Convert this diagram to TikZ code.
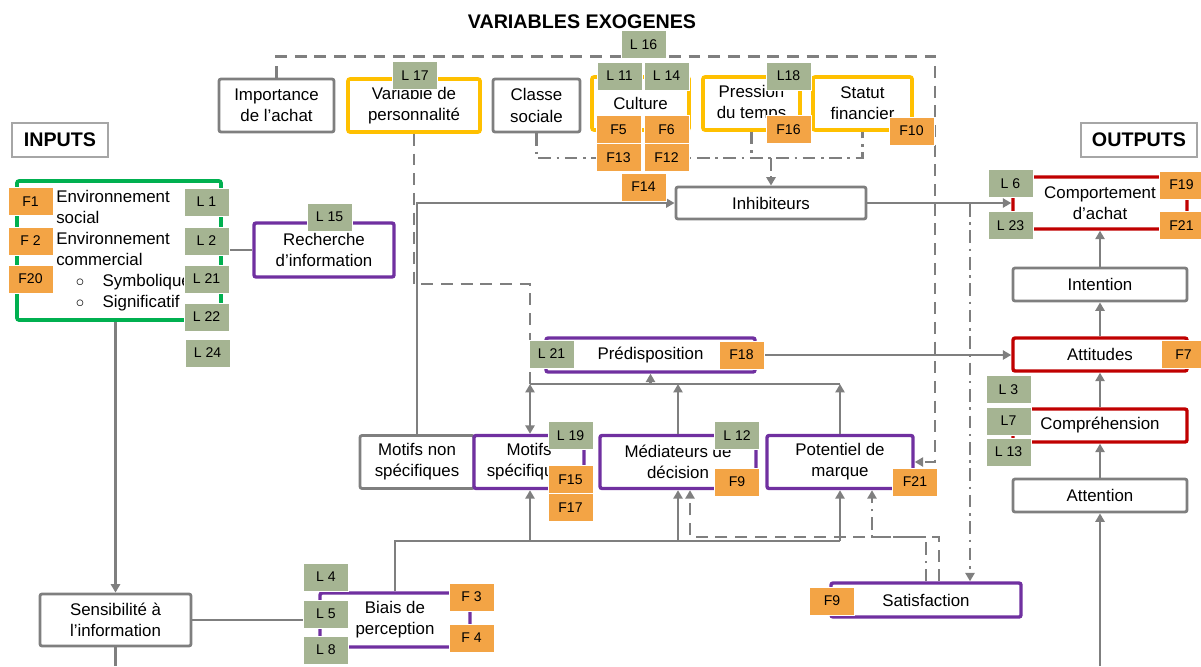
\documentclass[tikz,border=0pt]{standalone}
\usepackage{fontspec}
\setmainfont{Liberation Sans}
\usepackage{tikz}
\usetikzlibrary{arrows.meta,positioning,calc}
\definecolor{linegray}{RGB}{127,127,127}
\definecolor{tagsage}{RGB}{165,180,146}
\definecolor{tagorange}{RGB}{243,164,69}
\definecolor{exoyellow}{RGB}{255,192,0}
\definecolor{deeppurple}{RGB}{112,48,160}
\definecolor{deepred}{RGB}{192,0,0}
\definecolor{deepgreen}{RGB}{0,176,80}

\begin{document}
\begin{tikzpicture}[
    x=0.025cm, y=-0.025cm,
    >={Triangle[length=6pt,width=6.5pt]},
    box/.style={rectangle, draw=linegray, line width=2pt, rounded corners=1.5pt,
                fill=white, align=center, inner sep=1pt,
                font=\fontsize{12}{15}\selectfont},
    exo/.style={box, draw=exoyellow, line width=2.6pt},
    proc/.style={box, draw=deeppurple, line width=2.4pt},
    outp/.style={box, draw=deepred, line width=2.4pt},
    tagL/.style={rectangle, fill=tagsage, draw=white, line width=0.4pt,
                 minimum width=1.125cm, minimum height=0.7cm, inner sep=0pt,
                 font=\fontsize{10}{12}\selectfont},
    tagF/.style={tagL, fill=tagorange},
    head/.style={rectangle, draw=black!35, line width=0.8pt,
                 font=\fontsize{14}{16}\selectfont\bfseries},
    link/.style={draw=linegray, line width=1.9pt},
    arrow/.style={link, ->},
    dashlink/.style={link, dash pattern=on 8.5pt off 5.5pt},
    dasharrow/.style={dashlink, ->},
    dotlink/.style={link, dash pattern=on 9pt off 4pt on 1.8pt off 4pt},
    dotarrow/.style={dotlink, ->},
    dblarrow/.style={link, <->}
]
\useasboundingbox (0,0) rectangle (1201,666);

\node[font=\fontsize{14}{16}\selectfont\bfseries] (title) at (582,22) {VARIABLES EXOGENES};
\node[head, minimum width=2.4cm, minimum height=0.85cm] (inputs) at (60,140) {INPUTS};
\node[head, minimum width=2.9cm, minimum height=0.85cm] (outputs) at (1139,140) {OUTPUTS};

\node[box, minimum width=2.875cm, minimum height=1.325cm] (imp) at (276.5,105.5) {Importance\\de l’achat};
\node[exo, minimum width=3.3cm, minimum height=1.325cm] (pers) at (414,105.5) {Variable de\\personnalité};
\node[box, minimum width=2.175cm, minimum height=1.325cm] (classe) at (536.5,105.5) {Classe\\sociale};
\node[exo, minimum width=2.425cm, minimum height=1.325cm] (cult) at (640.5,103.5) {Culture};
\node[exo, minimum width=2.425cm, minimum height=1.325cm] (press) at (751.5,103.5) {Pression\\du temps};
\node[exo, minimum width=2.475cm, minimum height=1.325cm] (statut) at (862.5,103.5) {Statut\\financier};
\node[box, minimum width=4.75cm, minimum height=0.8cm] (inhib) at (771,203) {Inhibiteurs};

\node[box, draw=deepgreen, line width=2.6pt, minimum width=5.1cm, minimum height=3.475cm] (env) at (119,250.5) {};
\node[anchor=north west, align=left, inner sep=0pt, font=\fontsize{12}{15}\selectfont] (envtxt) at (56,190)
    {Environnement\\social\\Environnement\\commercial\\
     \hspace*{14pt}$\circ$\hspace{13pt}Symbolique\\\hspace*{14pt}$\circ$\hspace{13pt}Significatif};
\node[proc, minimum width=3.5cm, minimum height=1.35cm] (rech) at (324,250) {Recherche\\d’information};
\node[box, minimum width=3.775cm, minimum height=1.3cm] (sens) at (115.5,620) {Sensibilité à\\l’information};
\node[proc, minimum width=3.75cm, minimum height=1.35cm] (biais) at (395,620) {Biais de\\perception};

\node[proc, minimum width=5.225cm, minimum height=0.85cm] (pred) at (650.5,355) {Prédisposition};
\node[box, minimum width=2.85cm, minimum height=1.325cm] (mns) at (417,462) {Motifs non\\spécifiques};
\node[proc, minimum width=2.75cm, minimum height=1.325cm] (ms) at (529,462) {Motifs\\spécifiques};
\node[proc, minimum width=3.9cm, minimum height=1.325cm] (med) at (678,462) {Médiateurs de\\décision};
\node[proc, minimum width=3.65cm, minimum height=1.325cm] (pot) at (840,462) {Potentiel de\\marque};
\node[proc, minimum width=4.75cm, minimum height=0.85cm] (satis) at (926,600) {Satisfaction};

\node[outp, minimum width=4.35cm, minimum height=1.3cm] (comp) at (1100,203) {Comportement\\d’achat};
\node[box, minimum width=4.35cm, minimum height=0.825cm] (intent) at (1100,284.5) {Intention};
\node[outp, minimum width=4.35cm, minimum height=0.825cm] (attit) at (1100,354.5) {Attitudes};
\node[outp, minimum width=4.35cm, minimum height=0.825cm] (compr) at (1100,425.5) {Compréhension};
\node[box, minimum width=4.35cm, minimum height=0.825cm] (attn) at (1100,495.5) {Attention};

\coordinate (jl) at (530,384);
\coordinate (jr) at (840,384);
\coordinate (pk) at (530,284);
\coordinate (bk) at (840,541);
\coordinate (sk1) at (690,537);
\coordinate (sk2) at (872,537);
\coordinate (dk1) at (276.5,56.5);
\coordinate (dk2) at (935,56.5);
\coordinate (ek) at (536.5,158);
\coordinate (fk) at (970,204);
\coordinate (attnin) at (1100,666);
\coordinate (sensout) at (115.5,666);

\draw[arrow] (comp.south |- intent.north) -- (comp.south);
\draw[arrow] (attit) -- (intent);
\draw[arrow] (compr) -- (attit);
\draw[arrow] (attn) -- (compr);
\draw[arrow] (attnin) -- (attn);
\draw[arrow] (inhib.east) -- (comp.west |- inhib.east);
\draw[arrow] (pred.east) -- (attit.west |- pred.east);
\draw[arrow] (mns.north) |- (inhib.west);
\draw[dashlink] (pers.south) |- (pk) -- (jl);
\draw[link] (jl) -- (jr);
\draw[arrow] (pred.south |- jl) -- (pred.south);
\draw[arrow] (med.north) -- (med.north |- jl);
\draw[arrow] (pot.north) -- (jr);
\draw[dblarrow] (jl) -- (jl |- ms.north);
\draw[arrow] (sens.north |- env.south) -- (sens.north);
\draw[link] (sens.south) -- (sensout);
\draw[link] (sens.east) -- (biais.west);
\draw[link] (biais.north) |- (bk);
\draw[arrow] (jl |- bk) -- (jl |- ms.south);
\draw[arrow] (med.south |- bk) -- (med.south);
\draw[arrow] (bk) -- (pot.south);
\draw[dasharrow] ([xshift=0.325cm]satis.north) |- (sk1) -- (sk1 |- med.south);
\draw[dotarrow] (satis.north) |- (sk2) -- (sk2 |- pot.south);
\draw[dasharrow] (imp.north) -- (dk1) -- (dk2) |- (pot.east);
\draw[dotlink] (classe.south) |- (statut.south |- ek) -- (statut.south);
\draw[dotlink] (press.south) -- (press.south |- ek);
\draw[dotarrow] (inhib.north |- ek) -- (inhib.north);
\draw[dotarrow] (fk) -- (fk |- satis.north);
\draw[link] (env.east |- rech.west) -- (rech.west);

\node[tagL] (l17) at (415,75.5) {L 17};
\node[tagL] (l16) at (643.5,44.5) {L 16};
\node[tagL] (l11) at (619.5,76) {L 11};
\node[tagL] (l14) at (666.5,76) {L 14};
\node[tagF] (f5) at (618.5,129.5) {F5};
\node[tagF] (f6) at (666.5,129.5) {F6};
\node[tagF] (f13) at (618.5,157.5) {F13};
\node[tagF] (f12) at (666.5,157.5) {F12};
\node[tagF] (f14) at (643.5,187) {F14};
\node[tagL] (l18) at (788.5,76) {L18};
\node[tagF] (f16) at (788.5,129.5) {F16};
\node[tagF] (f10) at (911.5,131) {F10};
\node[tagF] (f1) at (30.5,201.5) {F1};
\node[tagF] (f2) at (30.5,241) {F 2};
\node[tagF] (f20) at (30.5,279) {F20};
\node[tagL] (l1) at (206.5,202) {L 1};
\node[tagL] (l2) at (206.5,241) {L 2};
\node[tagL] (l21) at (206.5,279) {L 21};
\node[tagL] (l22) at (206.5,317) {L 22};
\node[tagL] (l24) at (207.5,353) {L 24};
\node[tagL] (l15) at (329.5,217) {L 15};
\node[tagL] (l21b) at (551.5,354) {L 21};
\node[tagF] (f18) at (741.5,355) {F18};
\node[tagL] (l19) at (570.5,435.5) {L 19};
\node[tagF] (f15) at (570.5,479.5) {F15};
\node[tagF] (f17) at (570.5,507.5) {F17};
\node[tagL] (l12) at (737,435.5) {L 12};
\node[tagF] (f9) at (737,482) {F9};
\node[tagF] (f21) at (915,482) {F21};
\node[tagL] (l4) at (326,577) {L 4};
\node[tagL] (l5) at (326,614) {L 5};
\node[tagL] (l8) at (326,650) {L 8};
\node[tagF] (f3) at (471.5,597) {F 3};
\node[tagF] (f4) at (471.5,638) {F 4};
\node[tagF] (f9b) at (832,601) {F9};
\node[tagL] (l6) at (1010.5,183.5) {L 6};
\node[tagL] (l23) at (1010.5,225.5) {L 23};
\node[tagF] (f19) at (1181.5,185) {F19};
\node[tagF] (f21b) at (1181.5,225.5) {F21};
\node[tagF] (f7) at (1183.5,354.5) {F7};
\node[tagL] (l3) at (1008.5,389.5) {L 3};
\node[tagL] (l7) at (1008.5,421) {L7};
\node[tagL] (l13) at (1008.5,452) {L 13};
\end{tikzpicture}
\end{document}
